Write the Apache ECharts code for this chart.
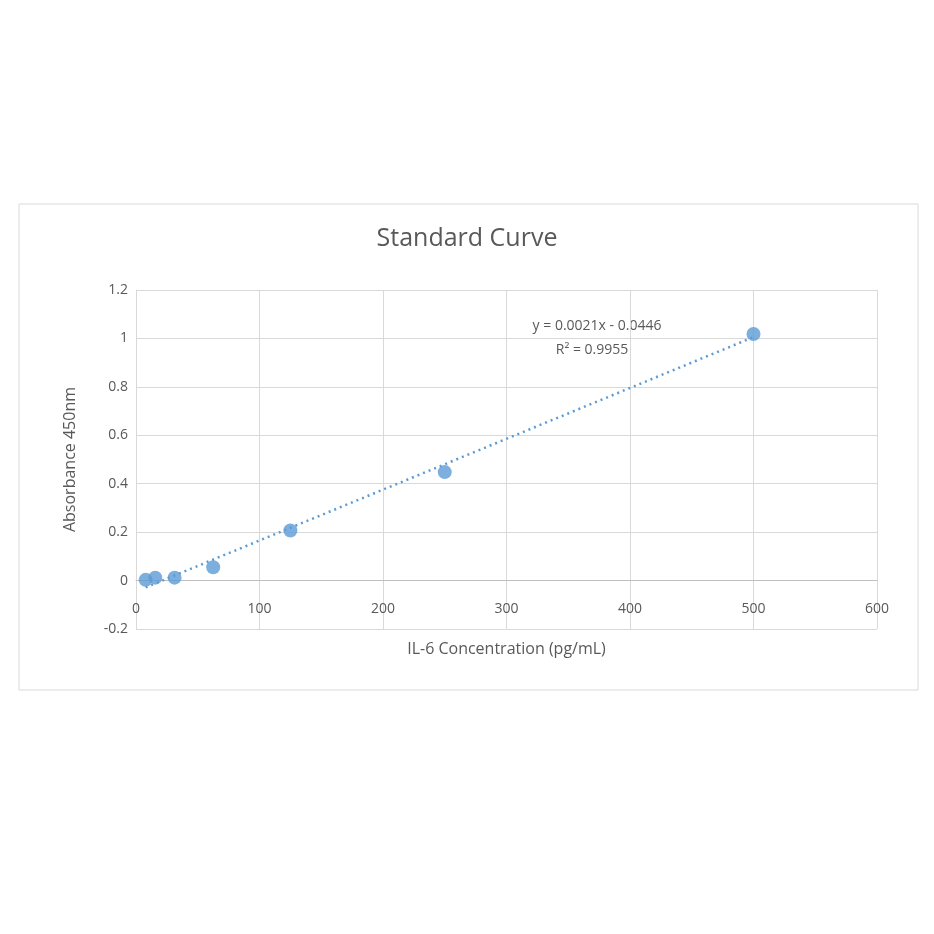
<!DOCTYPE html><html><head><meta charset="utf-8"><script src="https://cdn.jsdelivr.net/npm/echarts@6/dist/echarts.min.js"></script>
<style>body{margin:0}#c{width:934px;height:934px}</style></head><body><div id="c"></div><script>
const conc=[7.8,15.6,31.25,62.5,125,250,500];
const absb=[0.003,0.012,0.012,0.055,0.207,0.448,1.018];
const slope=0.0021, intercept=-0.0446;
const fitX=[7.8,500];
const fit=fitX.map(x=>[x,slope*x+intercept]);
const F='Open Sans';
const c=echarts.init(document.getElementById('c'));
c.setOption({
 animation:false,
 graphic:[{type:'rect',shape:{x:19,y:204,width:899,height:486},style:{fill:'#fff',stroke:'#d9d9d9',lineWidth:1}},
  {type:'text',left:'center',top:226,style:{text:'Standard Curve',font:'25px "Open Sans"',fill:'#595959'}},
  {type:'text',x:597,y:326,style:{text:'y = 0.0021x - 0.0446',font:'14px "Open Sans"',fill:'#595959',align:'center',verticalAlign:'middle'}},
  {type:'text',x:592,y:350,style:{text:'R² = 0.9955',font:'14px "Open Sans"',fill:'#595959',align:'center',verticalAlign:'middle'}}],
 grid:{left:136,right:57,top:290,bottom:305},
 xAxis:{type:'value',min:0,max:600,interval:100,name:'IL-6 Concentration (pg/mL)',nameLocation:'middle',nameGap:12,
  nameTextStyle:{fontFamily:F,fontSize:16,color:'#595959'},
  axisLine:{onZero:true,lineStyle:{color:'#bfbfbf'}},axisTick:{show:false},
  axisLabel:{fontFamily:F,fontSize:14,color:'#595959',margin:-27},
  splitLine:{lineStyle:{color:'#d9d9d9'}}},
 yAxis:{type:'value',min:-0.2,max:1.2,interval:0.2,name:'Absorbance 450nm',nameLocation:'middle',nameGap:58,
  nameTextStyle:{fontFamily:F,fontSize:16,color:'#595959'},
  axisLine:{show:true,lineStyle:{color:'#d9d9d9'}},axisTick:{show:false},
  axisLabel:{fontFamily:F,fontSize:14,color:'#595959',formatter:v=>String(Math.round(v*10)/10)},
  splitLine:{lineStyle:{color:'#d9d9d9'}}},
 series:[
  {type:'line',data:fit,symbol:'none',lineStyle:{color:'#5b9bd5',width:2.5,type:[2,4]},z:2},
  {type:'scatter',data:conc.map((x,i)=>[x,absb[i]]),symbolSize:14,itemStyle:{color:'#5b9bd5'},z:3}
 ]});
</script></body></html>
